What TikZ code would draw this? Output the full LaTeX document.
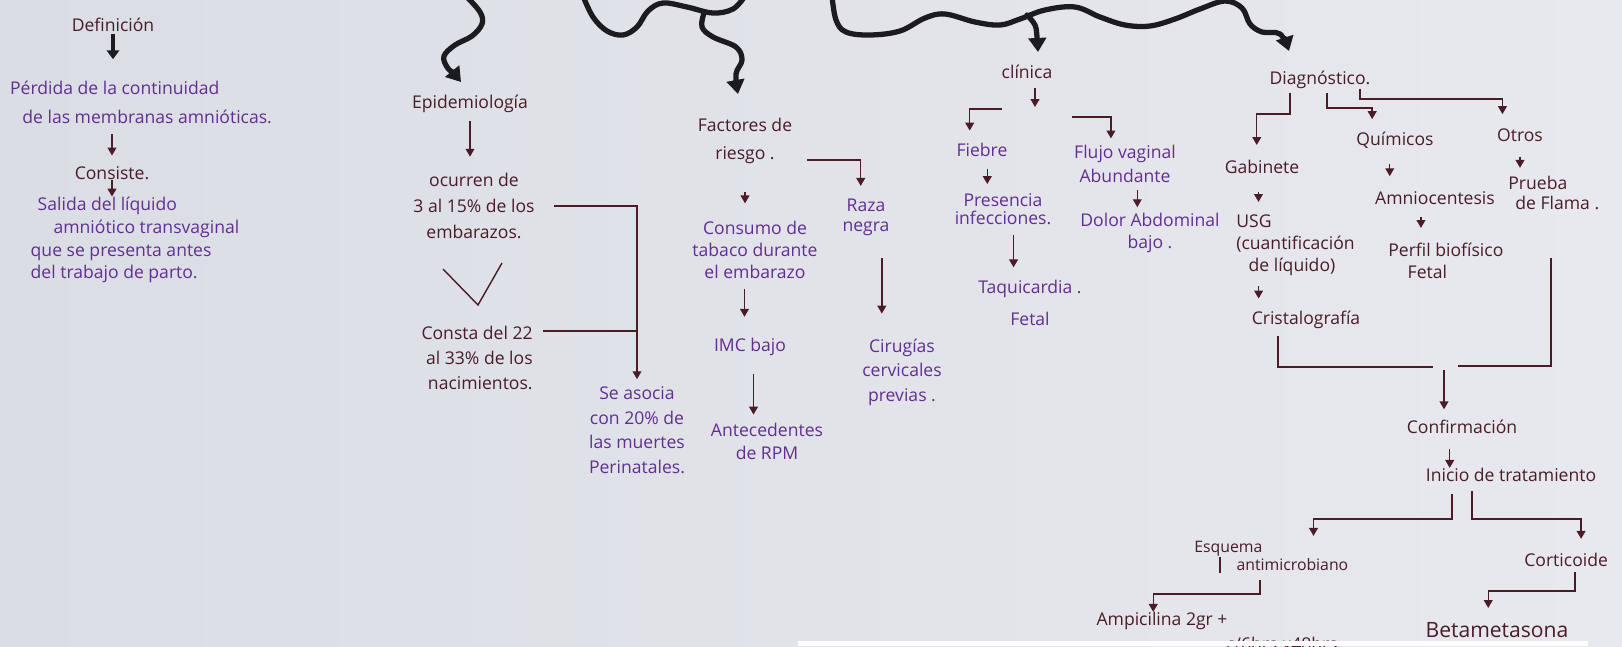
\documentclass[tikz,border=0pt]{standalone}
\usepackage{fontspec}
\setmainfont{Open Sans}
\usetikzlibrary{arrows.meta}

\definecolor{inkpurple}{RGB}{98,46,146}
\definecolor{inkbrown}{RGB}{74,28,40}
\definecolor{marker}{RGB}{28,28,32}
\definecolor{paperL}{RGB}{218,221,228}
\definecolor{paperR}{RGB}{232,233,238}
\newcommand\handfont{\fontsize{10}{14}\selectfont}
\newcommand\lines[1]{\fontsize{10}{#1}\selectfont}

\begin{document}
\begin{tikzpicture}[x=0.02cm, y=-0.02cm,
  purpletext/.style={text=inkpurple, font=\handfont, align=center, inner sep=0pt},
  browntext/.style={text=inkbrown, font=\handfont, align=center, inner sep=0pt},
  link/.style={draw=inkbrown, line width=0.8pt, -{Triangle[length=4.5pt,width=5pt]}},
  linkline/.style={draw=inkbrown, line width=0.8pt},
  boldlink/.style={draw=marker, line width=2.2pt, -{Triangle[length=5pt,width=7pt]}},
  wavy/.style={draw=marker, line width=3pt, line cap=round, line join=round},
  wavyarrow/.style={wavy, -{Triangle[length=8pt,width=10pt]}}
]
  % paper
  \useasboundingbox (0,0) rectangle (1622,646);
  \clip (0,0) rectangle (1622,646);
  \shade[left color=paperL, right color=paperR] (0,0) rectangle (1622,646);

  % top marker strokes
  \draw[wavyarrow] plot[smooth, tension=0.6] coordinates {(466,-4) (480,12) (482,24) (472,36) (455,45) (444,56) (447,67) (455,75) (461,82)};
  \draw[wavy] plot[smooth, tension=0.6] coordinates {(583,-4) (593,17) (607,31) (623,35) (637,27) (648,11) (663,3) (687,7) (713,13) (733,9) (745,-4)};
  \draw[wavyarrow] plot[smooth, tension=0.6] coordinates {(704,13) (702,27) (713,37) (736,47) (742,60) (736,74) (738,94)};
  \draw[wavyarrow] plot[smooth, tension=0.6] coordinates {(832,-4) (836,20) (846,32) (870,35) (900,31) (925,18) (945,14) (975,22) (1000,25) (1020,19) (1045,10) (1075,7) (1100,17) (1125,25) (1150,26) (1175,19) (1200,9) (1225,1) (1242,8) (1250,24) (1262,32) (1280,34) (1289,51)};
  \draw[wavyarrow] plot[smooth, tension=0.6] coordinates {(1027,15) (1035,25) (1037,37) (1038,52)};

  % Definicion
  \node[browntext] (def) at (113,25) {Definición};
  \node[purpletext, align=left, font=\lines{16.5}] (perd) at (141,102) {Pérdida de la continuidad\\\hspace*{7pt}de las membranas amnióticas.};
  \node[browntext] (cons) at (112,173) {Consiste.};
  \node[purpletext, align=left, font=\lines{13}] (sal) at (135,240) {\hspace*{4pt}Salida del líquido\\\hspace*{13pt}amniótico transvaginal\\que se presenta antes\\del trabajo de parto.};

  \draw[boldlink, shorten <=1pt, shorten >=12pt] (def.south) -- (def.south |- perd.north);
  \draw[link, shorten <=6pt, shorten >=6pt] (perd.south -| cons.north) -- (cons.north);
  \draw[link, shorten >=0pt] (cons.south) -- (cons.south |- sal.north);

  % Epidemiologia
  \node[browntext] (epi) at (470,104) {Epidemiología};
  \node[browntext, font=\lines{15}] (ocu) at (474,206) {ocurren de\\3 al 15\% de los\\embarazos.};
  \node[browntext, align=right, anchor=east, font=\lines{14}] (consta) at (533,358) {Consta del 22\\al 33\% de los\\nacimientos.};
  \node[purpletext, font=\lines{14}] (aso) at (637,430) {Se asocia\\con 20\% de\\las muertes\\Perinatales.};

  \draw[link, shorten <=4.5pt, shorten >=9pt] (epi.south) -- (epi.south |- ocu.north);
  \coordinate (vL) at (443,269);
  \coordinate (vT) at (478,305);
  \coordinate (vR) at (502,263);
  \draw[linkline] (vL) -- (vT) -- (vR);
  \draw[link, shorten <=11pt, shorten >=4pt] (ocu.east) -| (aso.north);
  \coordinate (coS) at (543,331);
  \draw[linkline] (coS) -- (coS -| aso.north);

  % Factores de riesgo
  \node[browntext, font=\lines{16}] (fac) at (745,141) {Factores de\\riesgo .};
  \node[purpletext, font=\lines{12.5}] (consu) at (755,250) {Consumo de\\tabaco durante\\el embarazo};
  \node[purpletext, font=\lines{11.5}] (raza) at (866,217) {Raza\\negra};
  \node[purpletext] (imc) at (750,347) {IMC bajo};
  \node[purpletext, font=\lines{13}] (ante) at (767,441) {Antecedentes\\de RPM};
  \node[purpletext, font=\lines{14}] (ciru) at (902,372) {Cirugías\\cervicales\\previas .};

  \coordinate (facR) at (807,160);
  \draw[link, shorten >=7pt] (facR) -| ([xshift=-3pt]raza.north);
  \draw[link, shorten <=16pt, shorten >=10pt] (fac.south) -- (fac.south |- consu.north);
  \draw[link, shorten <=5.5pt, shorten >=12pt] ([xshift=-6pt]consu.south) -- ([xshift=-6pt]consu.south |- imc.north);
  \draw[link, shorten <=10pt, shorten >=4.5pt] ([xshift=2pt]imc.south) -- ([xshift=2pt]imc.south |- ante.north);
  \draw[link, shorten <=12.5pt, shorten >=14pt] ([xshift=9pt]raza.south) -- ([xshift=9pt]raza.south |- ciru.north);

  % Clinica
  \node[browntext] (cli) at (1027,72) {clínica};
  \node[purpletext] (fie) at (982,150) {Fiebre};
  \node[purpletext, font=\lines{14}] (flu) at (1125,164) {Flujo vaginal\\Abundante};
  \node[purpletext, font=\lines{10.5}] (pre) at (1003,209) {Presencia\\infecciones.};
  \node[purpletext, font=\lines{13}] (dol) at (1150,233) {Dolor Abdominal\\bajo .};
  \node[purpletext, font=\lines{18.5}] (taq) at (1030,303) {Taquicardia .\\Fetal};

  \coordinate (cliE) at (1035,107);
  \draw[link, shorten <=5pt] (cli.south -| cliE) -- (cliE);
  \coordinate (cliL) at (1002,109);
  \draw[link, shorten >=7pt] (cliL) -| ([xshift=-7pt]fie.north);
  \coordinate (cliR) at (1072,117);
  \draw[link, shorten >=3.5pt] (cliR) -| ([xshift=-8pt]flu.north);
  \draw[link, shorten <=7pt, shorten >=5pt] ([xshift=3pt]fie.south) -- ([xshift=3pt]fie.south |- pre.north);
  \draw[link, shorten <=4pt, shorten >=3pt] ([xshift=7pt]flu.south) -- ([xshift=7pt]flu.south |- dol.north);
  \draw[link, shorten <=5.5pt, shorten >=7pt] ([xshift=6pt]pre.south) -- ([xshift=6pt]pre.south |- taq.north);

  % Diagnostico
  \node[browntext] (dia) at (1320,80) {Diagnóstico.};
  \node[browntext] (gab) at (1262,167) {Gabinete};
  \node[browntext] (qui) at (1395,140) {Químicos};
  \node[browntext] (otr) at (1520,135) {Otros};
  \node[browntext, align=left, anchor=west, font=\lines{12.5}] (usg) at (1236,245) {USG\\(cuantificación\\\hspace*{7pt}de líquido)};
  \node[browntext] (cri) at (1306,320) {Cristalografía};
  \node[browntext] (amn) at (1435,198) {Amniocentesis};
  \node[browntext, align=left, anchor=west, font=\lines{12.5}] (per) at (1388,261) {Perfil biofísico\\\hspace*{11pt}Fetal};
  \node[browntext, align=left, anchor=west, font=\lines{11.5}] (pru) at (1508,193) {Prueba\\\hspace*{4pt}de Flama .};

  \coordinate (dgG) at (1290,114);
  \draw[link, shorten <=2pt, shorten >=8.5pt] (dia.south -| dgG) -- (dgG) -| ([xshift=-3pt]gab.north);
  \coordinate (dgQ) at (1327,108);
  \draw[link, shorten <=2pt, shorten >=7pt] (dia.south -| dgQ) -- (dgQ) -| ([xshift=-13pt]qui.north);
  \coordinate (dgO) at (1360,99);
  \draw[link, shorten >=8pt] (dia.south -| dgO) -- (dgO) -| ([xshift=-10pt]otr.north);
  \draw[link, shorten <=10pt, shorten >=7pt] ([xshift=-2pt]gab.south) -- ([xshift=-2pt]gab.south |- usg.north);
  \draw[link, shorten <=8.5pt, shorten >=8.5pt] ([xshift=-3pt]qui.south) -- ([xshift=-3pt]qui.south |- amn.north);
  \draw[link, shorten <=8.5pt, shorten >=4.5pt] (otr.south) -- (otr.south |- pru.north);
  \draw[link, shorten <=7pt, shorten >=8.5pt] ([xshift=-8pt]amn.south) -- ([xshift=-8pt]amn.south |- per.north);
  \draw[link, shorten <=6pt, shorten >=7pt] ([xshift=-21pt]usg.south) -- ([xshift=-21pt]usg.south |- cri.north);

  % Confirmacion y tratamiento
  \node[browntext] (conf) at (1462,427) {Confirmación};
  \node[browntext] (ini) at (1511,475) {Inicio de tratamiento};
  \node[browntext, align=left, anchor=west, font={\fontsize{9}{8.5}\selectfont}] (esq) at (1194,556) {Esquema\\\hspace*{24pt}antimicrobiano};
  \node[browntext, anchor=west] (cort) at (1524,560) {Corticoide};
  \node[browntext] (amp) at (1162,621) {Ampicilina 2gr +};
  \node[browntext, font=\fontsize{12}{14}\selectfont] (bet) at (1497,630) {Betametasona};
  \node[browntext] (resto) at (1282,644) {c/6hrs x48hrs};

  \coordinate (cfL) at (1433,367);
  \draw[linkline, shorten <=4pt] ([xshift=-16pt]cri.south) |- (cfL);
  \coordinate (cfRtop) at (1551,258);
  \coordinate (cfR) at (1458,366);
  \draw[linkline] (cfRtop) |- (cfR);
  \coordinate (cfM) at (1444,370);
  \draw[link, shorten >=6pt] (cfM) -- (cfM |- conf.north);
  \draw[link, shorten <=8.5pt] ([xshift=-7pt]conf.south) -- ([xshift=-7pt]conf.south |- ini.north);

  \coordinate (iL) at (1452,519);
  \draw[link, shorten <=7pt, shorten >=3pt] (ini.south -| iL) -- (iL) -| ([xshift=24pt]esq.north);
  \coordinate (iR) at (1472,519);
  \draw[link, shorten <=5pt, shorten >=8pt] (ini.south -| iR) -- (iR) -| ([xshift=8.5pt]cort.north);
  \coordinate (esqT) at (1220,557);
  \draw[linkline] (esqT) -- ++(0,16);
  \coordinate (eK) at (1260,594);
  \draw[link, shorten <=5pt] (esq.south -| eK) -- (eK) -| ([xshift=-5pt]amp.north);
  \coordinate (cK) at (1575,591);
  \draw[link, shorten <=3pt, shorten >=8pt] (cort.south -| cK) -- (cK) -| ([xshift=-5pt]bet.north);

  % torn white strip at the bottom
  \fill[white] (798,641) rectangle (1588,646);
\end{tikzpicture}
\end{document}
